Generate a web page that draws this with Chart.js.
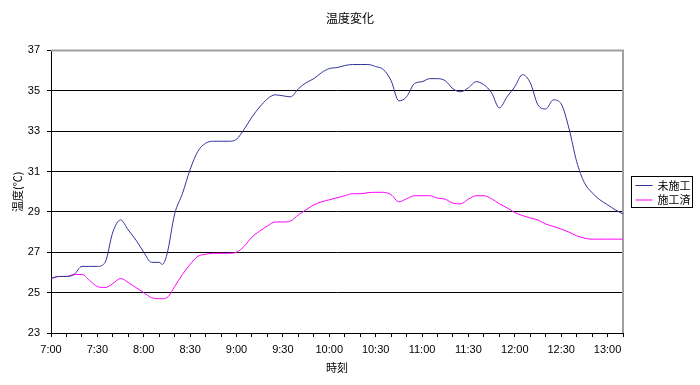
<!DOCTYPE html>
<html>
<head>
<meta charset="utf-8">
<script src="https://cdn.jsdelivr.net/npm/chart.js@4"></script>
<style>
  html, body { margin: 0; padding: 0; background: #ffffff; }
  #wrap { width: 700px; height: 385px; }
</style>
</head>
<body>
<div id="wrap"><canvas id="grafico"></canvas></div>
<script>
const tituloGrafico = '温度変化';
const tituloEixoX = '時刻';
const tituloEixoY = '温度(℃)';
const nomesSeries = ['未施工', '施工済'];

const horarios = [
  '7:00', '7:05', '7:10', '7:15', '7:20', '7:25', '7:30', '7:35', '7:40', '7:45', '7:50', '7:55',
  '8:00', '8:05', '8:10', '8:12', '8:15', '8:20', '8:25', '8:30', '8:35', '8:40', '8:45', '8:50', '8:55',
  '9:00', '9:05', '9:10', '9:15', '9:20', '9:25', '9:30', '9:35', '9:40', '9:45', '9:50', '9:55',
  '10:00', '10:05', '10:10', '10:15', '10:20', '10:25', '10:30', '10:35', '10:40', '10:45', '10:50', '10:55',
  '11:00', '11:05', '11:10', '11:15', '11:20', '11:25', '11:30', '11:35', '11:40', '11:45', '11:50', '11:55',
  '12:00', '12:05', '12:10', '12:15', '12:20', '12:25', '12:30', '12:35', '12:40', '12:45', '12:50', '12:55',
  '13:00', '13:05', '13:10'
];

const naoTratado = [
  25.7, 25.8, 25.8, 25.9, 26.3, 26.3, 26.3, 26.5, 28.0, 28.6, 28.1, 27.6,
  27.0, 26.5, 26.5, 26.4, 26.9, 28.9, 29.9, 31.1, 32.0, 32.4, 32.5, 32.5, 32.5,
  32.6, 33.1, 33.7, 34.2, 34.6, 34.8, 34.75, 34.7, 35.1, 35.4, 35.6, 35.9,
  36.1, 36.15, 36.25, 36.3, 36.3, 36.3, 36.2, 36.05, 35.5, 34.5, 34.7, 35.35,
  35.45, 35.6, 35.6, 35.5, 35.1, 34.95, 35.15, 35.45, 35.3, 34.9, 34.15, 34.7,
  35.2, 35.8, 35.4, 34.3, 34.1, 34.55, 34.35, 33.15, 31.5, 30.45, 29.95, 29.6,
  29.35, 29.1, 28.9
];

const tratado = [
  25.7, 25.8, 25.8, 25.9, 25.9, 25.6, 25.3, 25.25, 25.45, 25.7, 25.5, 25.25,
  25.0, 24.75, 24.7, 24.7, 24.75, 25.3, 25.9, 26.4, 26.8, 26.9, 26.95, 26.95, 26.95,
  27.0, 27.3, 27.75, 28.05, 28.3, 28.5, 28.5, 28.55, 28.85, 29.1, 29.35, 29.5,
  29.6, 29.7, 29.8, 29.9, 29.9, 29.95, 29.97, 29.97, 29.85, 29.5, 29.65, 29.8,
  29.8, 29.8, 29.68, 29.63, 29.43, 29.4, 29.63, 29.8, 29.8, 29.65, 29.4, 29.2,
  28.97, 28.82, 28.7, 28.6, 28.4, 28.28, 28.15, 28.0, 27.82, 27.7, 27.65, 27.65,
  27.65, 27.65, 27.65
];

const inicioMin = 7 * 60;
const fimMin = 13 * 60 + 10;

function paraMinutos(h) {
  const [hh, mm] = h.split(':').map(Number);
  return hh * 60 + mm - inicioMin;
}

function rotuloHora(v) {
  if (v % 30 !== 0) return '';
  const total = inicioMin + v;
  const h = Math.floor(total / 60);
  const m = total % 60;
  return h + ':' + (m < 10 ? '0' + m : m);
}

const fonteCJK = "'Noto Sans CJK JP', sans-serif";
const fonteNum = "'Liberation Sans', Arial, sans-serif";

// borda cinza da área do gráfico (topo e direita) + legenda com caixa
const bordaELegenda = {
  id: 'bordaELegenda',
  beforeDatasetsDraw(chart) {
    const { ctx, chartArea: a } = chart;
    ctx.save();
    ctx.strokeStyle = '#a0a0a0';
    ctx.lineWidth = 2;
    ctx.beginPath();
    ctx.moveTo(a.left, a.top);
    ctx.lineTo(a.right, a.top);
    ctx.lineTo(a.right, a.bottom);
    ctx.stroke();
    ctx.restore();
  },
  afterDraw(chart) {
    const { ctx, chartArea: a } = chart;
    const x = Math.round(a.right) + 8.5;
    const alt = 31;
    const larg = 61;
    const y = Math.round((a.top + a.bottom) / 2 - alt / 2) + 0.5;
    ctx.save();
    ctx.strokeStyle = '#000000';
    ctx.lineWidth = 1;
    ctx.strokeRect(x, y, larg, alt);
    ctx.font = '11px ' + fonteCJK;
    ctx.textBaseline = 'middle';
    ctx.fillStyle = '#000000';
    chart.data.datasets.forEach((ds, i) => {
      const ly = y + 9 + i * 14.5;
      ctx.strokeStyle = ds.borderColor;
      ctx.beginPath();
      ctx.moveTo(x + 4, ly);
      ctx.lineTo(x + 21, ly);
      ctx.stroke();
      ctx.fillText(ds.label, x + 26, ly);
    });
    ctx.restore();
  }
};

const ctx = document.getElementById('grafico').getContext('2d');
const minutos = horarios.map(paraMinutos);

new Chart(ctx, {
  type: 'line',
  data: {
    datasets: [
      {
        label: nomesSeries[0],
        data: minutos.map((m, i) => ({ x: m, y: naoTratado[i] })),
        borderColor: '#333399',
        borderWidth: 1,
        pointRadius: 0,
        cubicInterpolationMode: 'monotone'
      },
      {
        label: nomesSeries[1],
        data: minutos.map((m, i) => ({ x: m, y: tratado[i] })),
        borderColor: '#ff00ff',
        borderWidth: 1,
        pointRadius: 0,
        cubicInterpolationMode: 'monotone'
      }
    ]
  },
  options: {
    responsive: true,
    maintainAspectRatio: false,
    animation: false,
    layout: { padding: 0 },
    plugins: {
      legend: { display: false },
      tooltip: { enabled: false },
      title: {
        display: true,
        text: tituloGrafico,
        color: '#000000',
        font: { family: fonteCJK, size: 12, weight: 'normal' },
        padding: { top: 11, bottom: 25 }
      }
    },
    scales: {
      x: {
        type: 'linear',
        min: 0,
        max: fimMin - inicioMin,
        afterFit: s => { s.height = 52; },
        ticks: {
          stepSize: 10,
          autoSkip: false,
          maxRotation: 0,
          minRotation: 0,
          padding: 6,
          color: '#000000',
          font: { family: fonteNum, size: 11 },
          callback: v => rotuloHora(v)
        },
        grid: {
          drawOnChartArea: false,
          drawTicks: true,
          tickLength: 4,
          color: '#000000'
        },
        border: { display: true, color: '#000000', width: 1 },
        title: {
          display: true,
          text: tituloEixoX,
          color: '#000000',
          font: { family: fonteCJK, size: 11 },
          padding: { top: 0, bottom: 11 }
        }
      },
      y: {
        min: 23,
        max: 37,
        afterFit: s => { s.width = 51; },
        ticks: {
          stepSize: 2,
          padding: 7,
          color: '#000000',
          font: { family: fonteNum, size: 11 }
        },
        grid: {
          color: '#000000',
          lineWidth: 1,
          drawTicks: true,
          tickLength: 4
        },
        border: { display: true, color: '#000000', width: 1 },
        title: {
          display: true,
          text: tituloEixoY,
          color: '#000000',
          font: { family: fonteCJK, size: 11 },
          padding: { top: 11, bottom: 0 }
        }
      },
      // eixo vazio à direita só para reservar o espaço da legenda
      espacoLegenda: {
        type: 'linear',
        position: 'right',
        min: 23,
        max: 37,
        afterFit: s => { s.width = 77; },
        ticks: { display: false },
        grid: { display: false, drawOnChartArea: false },
        border: { display: false }
      }
    }
  },
  plugins: [bordaELegenda]
});
</script>
</body>
</html>
